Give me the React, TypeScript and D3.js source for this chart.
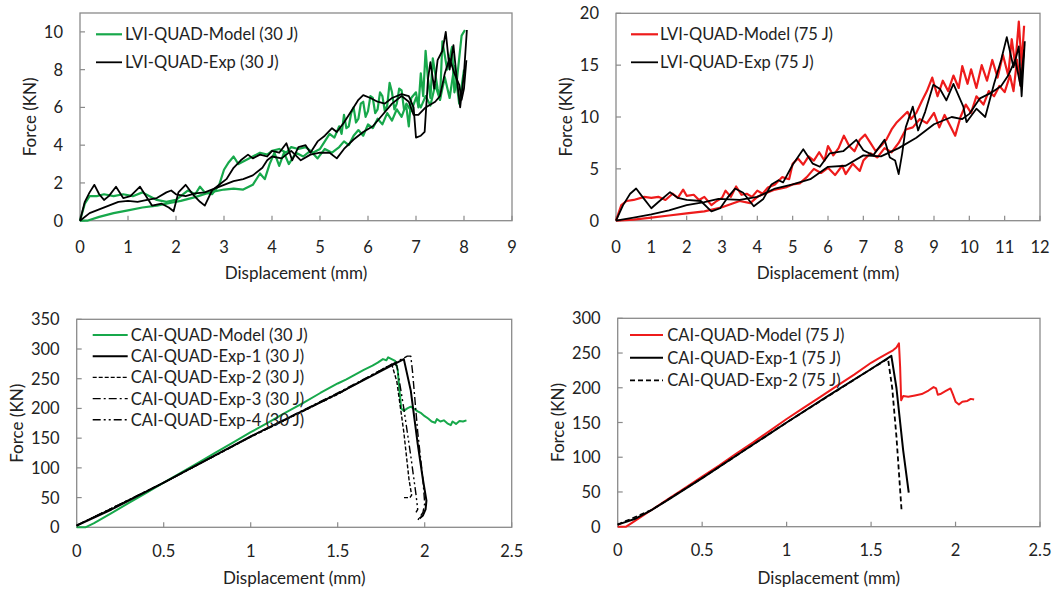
import React from 'react';
import * as d3 from 'd3';

type Pt = [number, number];

// ---------- Data: LVI 30 J ----------
const lvi30ModelUpper: Pt[] = [[0,0],[0.1,0.9],[0.2,1.3],[0.35,1.3],[0.5,1.4],[0.7,1.3],[0.9,1.4],[1.1,1.3],[1.3,1.5],[1.45,1.3],[1.6,1.1],[1.8,1.0],[2.0,1.1],[2.1,1.3],[2.25,1.6],[2.4,1.4],[2.5,1.8],[2.6,1.5],[2.75,1.4],[2.9,1.9],[3.0,2.7],[3.1,3.1],[3.2,3.4],[3.3,3.0],[3.45,3.2],[3.6,3.4],[3.75,3.6],[3.9,3.5],[4.0,3.7],[4.15,3.8],[4.3,3.6],[4.4,3.9],[4.55,3.8],[4.7,3.9],[4.85,3.6],[5.0,3.8],[5.1,4.2],[5.2,4.6],[5.3,4.4],[5.4,5.0],[5.45,4.6],[5.5,5.6],[5.55,4.9],[5.6,5.0],[5.65,5.7],[5.7,6.0],[5.75,5.2],[5.8,5.4],[5.85,6.2],[5.9,6.3],[5.95,5.5],[6.0,5.8],[6.05,6.6],[6.1,6.5],[6.15,5.7],[6.2,5.9],[6.25,6.8],[6.3,6.6],[6.35,5.8],[6.4,6.1],[6.45,7.3],[6.5,6.8],[6.55,5.9],[6.6,6.2],[6.65,7.0],[6.7,6.9],[6.75,5.9],[6.8,6.0],[6.85,5.0],[6.9,6.5],[7.0,6.8],[7.05,6.0],[7.1,7.8],[7.15,6.6],[7.2,9.0],[7.25,7.5],[7.3,6.5],[7.35,8.6],[7.45,7.0],[7.5,6.4],[7.55,9.5],[7.65,8.0],[7.75,9.2],[7.8,6.8],[7.85,7.4],[7.95,9.8],[8.02,10.1]];
const lvi30ModelLower: Pt[] = [[0,0],[0.15,0],[0.4,0.2],[0.7,0.4],[1.0,0.55],[1.3,0.7],[1.6,0.8],[1.9,0.95],[2.1,1.05],[2.4,1.25],[2.7,1.5],[3.0,1.65],[3.2,1.7],[3.4,1.65],[3.6,1.9],[3.75,2.5],[3.85,2.2],[3.95,3.0],[4.05,3.6],[4.15,2.9],[4.25,3.6],[4.35,3.0],[4.5,3.6],[4.65,3.4],[4.8,3.7],[4.95,3.3],[5.1,3.8],[5.25,3.6],[5.4,3.9],[5.5,4.2],[5.6,4.0],[5.7,4.5],[5.8,4.8],[5.9,4.5],[6.0,5.1],[6.1,4.9],[6.2,5.4],[6.3,5.1],[6.4,5.7],[6.5,5.3],[6.6,5.9],[6.7,5.5],[6.8,6.2],[6.9,5.8],[7.0,6.5],[7.1,6.0],[7.2,6.6],[7.3,6.1],[7.4,7.2],[7.5,6.4],[7.6,7.6],[7.7,6.5],[7.8,8.2],[7.9,6.2],[8.0,8.0]];
const lvi30ExpUpper: Pt[] = [[0,0],[0.1,1.0],[0.2,1.5],[0.3,1.9],[0.4,1.4],[0.5,1.1],[0.6,1.3],[0.75,1.8],[0.9,1.2],[1.05,1.3],[1.25,1.8],[1.35,1.4],[1.5,0.8],[1.7,0.9],[1.85,0.7],[1.95,0.5],[2.05,1.5],[2.2,1.9],[2.35,1.4],[2.5,1.0],[2.6,0.8],[2.75,1.6],[2.9,1.9],[3.05,2.2],[3.2,2.8],[3.35,3.2],[3.5,3.5],[3.6,3.3],[3.75,3.5],[3.9,3.4],[4.0,3.7],[4.15,3.6],[4.3,4.1],[4.42,3.2],[4.55,3.9],[4.7,4.0],[4.8,3.6],[4.95,4.2],[5.1,4.5],[5.25,4.9],[5.35,4.7],[5.5,5.2],[5.65,5.8],[5.8,6.4],[5.9,6.65],[6.05,6.5],[6.2,6.3],[6.35,6.2],[6.5,6.5],[6.7,6.7],[6.85,6.6],[6.95,6.0],[7.0,4.4],[7.1,4.5],[7.18,4.7],[7.25,7.5],[7.3,8.4],[7.38,7.0],[7.45,8.5],[7.55,9.0],[7.62,10.0],[7.7,8.0],[7.78,9.3],[7.85,7.5],[7.92,6.0],[8.0,7.8],[8.06,10.1]];
const lvi30ExpLower: Pt[] = [[0,0],[0.2,0.4],[0.4,0.6],[0.6,0.8],[0.8,1.0],[1.0,1.05],[1.2,1.0],[1.4,1.1],[1.6,1.2],[1.8,1.5],[1.9,1.6],[2.0,1.4],[2.2,1.3],[2.4,1.45],[2.6,1.5],[2.8,1.7],[3.0,1.9],[3.2,2.1],[3.4,2.2],[3.6,2.4],[3.8,2.8],[3.9,3.2],[4.0,3.4],[4.2,3.3],[4.4,3.7],[4.6,3.2],[4.8,3.5],[5.0,3.6],[5.2,3.6],[5.35,3.3],[5.5,3.8],[5.7,4.3],[5.9,4.7],[6.1,5.0],[6.3,5.6],[6.5,6.2],[6.7,6.6],[6.85,6.3],[6.95,5.6],[7.05,5.6],[7.2,6.0],[7.4,6.3],[7.5,6.6],[7.6,7.8],[7.7,8.6],[7.8,7.8],[7.9,7.2],[7.95,6.4],[8.0,7.0],[8.05,8.5]];

// ---------- Data: LVI 75 J ----------
const lvi75ModelUpper: Pt[] = [[0,0],[0.15,1.5],[0.3,1.9],[0.5,2.0],[0.8,2.3],[1.0,2.2],[1.2,2.3],[1.4,2.0],[1.6,2.6],[1.75,2.2],[1.9,3.0],[2.0,2.4],[2.2,2.5],[2.35,2.0],[2.5,2.3],[2.7,1.5],[2.85,1.9],[3.0,2.2],[3.1,2.9],[3.25,2.3],[3.4,3.3],[3.55,2.5],[3.7,2.6],[3.85,2.3],[4.0,2.9],[4.15,2.6],[4.3,3.2],[4.5,3.5],[4.7,4.2],[4.9,4.0],[5.0,5.5],[5.15,6.0],[5.3,5.4],[5.45,6.2],[5.6,5.8],[5.75,6.6],[5.9,5.8],[6.0,7.2],[6.15,6.3],[6.3,7.0],[6.45,8.2],[6.6,7.2],[6.75,6.7],[6.9,7.8],[7.05,8.3],[7.2,7.5],[7.35,6.7],[7.5,7.2],[7.65,7.8],[7.8,8.8],[7.95,9.5],[8.1,10.0],[8.25,10.5],[8.35,9.8],[8.5,10.4],[8.65,11.5],[8.8,12.5],[8.95,13.8],[9.1,12.0],[9.25,13.5],[9.4,12.5],[9.55,14.0],[9.7,12.8],[9.8,14.9],[9.95,13.2],[10.05,14.6],[10.2,12.8],[10.35,15.0],[10.5,13.5],[10.65,15.5],[10.8,13.8],[10.95,16.0],[11.1,14.0],[11.2,17.5],[11.3,15.0],[11.4,19.2],[11.48,15.0],[11.55,18.8]];
const lvi75ModelLower: Pt[] = [[0,0],[0.5,0.1],[1.0,0.3],[1.5,0.5],[2.0,0.7],[2.5,0.9],[3.0,1.3],[3.5,1.9],[3.8,1.7],[4.0,2.3],[4.2,2.6],[4.5,3.0],[4.8,3.2],[5.0,3.5],[5.2,3.6],[5.4,4.2],[5.6,5.0],[5.8,4.6],[6.0,5.1],[6.2,4.4],[6.4,5.3],[6.5,4.5],[6.7,5.5],[6.9,4.8],[7.0,5.8],[7.2,6.5],[7.4,6.1],[7.6,7.0],[7.8,6.6],[8.0,7.5],[8.2,8.8],[8.4,9.0],[8.6,9.8],[8.8,9.4],[9.0,10.4],[9.15,9.0],[9.3,10.2],[9.45,9.2],[9.6,8.2],[9.75,10.0],[9.9,11.2],[10.05,10.4],[10.2,12.0],[10.4,11.2],[10.55,12.5],[10.7,12.0],[10.85,13.0],[11.0,12.4],[11.15,14.0],[11.25,12.5],[11.35,15.5],[11.45,13.0],[11.55,17.0]];
const lvi75ExpUpper: Pt[] = [[0,0],[0.2,1.5],[0.4,2.6],[0.57,3.1],[0.75,2.3],[1.0,1.2],[1.2,1.8],[1.53,2.75],[1.75,2.2],[2.0,2.0],[2.4,1.9],[2.7,0.9],[2.95,1.2],[3.15,2.2],[3.37,3.1],[3.6,2.7],[3.9,1.4],[4.17,2.1],[4.4,3.5],[4.6,3.9],[4.73,3.7],[5.0,5.4],[5.3,6.9],[5.57,5.5],[5.77,5.2],[6.05,6.5],[6.43,6.7],[6.8,7.8],[7.0,6.8],[7.28,6.3],[7.6,7.8],[7.75,6.1],[7.9,5.8],[8.0,4.5],[8.1,6.5],[8.2,9.0],[8.4,11.0],[8.55,8.7],[8.75,10.5],[8.98,13.1],[9.17,12.7],[9.35,11.6],[9.55,13.2],[9.83,11.0],[9.92,9.5],[10.2,10.8],[10.45,10.0],[10.7,13.2],[10.9,15.5],[11.06,17.7],[11.25,14.8],[11.4,16.8],[11.48,12.0],[11.57,17.3]];
const lvi75ExpLower: Pt[] = [[0,0],[0.5,0.3],[1.0,0.6],[1.5,1.0],[2.0,1.5],[2.5,1.8],[2.9,2.1],[3.5,2.0],[4.0,2.3],[4.5,3.1],[5.0,3.5],[5.5,4.0],[6.0,5.2],[6.5,5.3],[7.0,6.3],[7.5,6.2],[8.0,7.0],[8.5,8.0],[9.0,9.3],[9.5,10.0],[9.8,9.8],[10.0,10.3],[10.3,11.8],[10.6,12.3],[10.9,13.0],[11.1,14.0],[11.3,15.5],[11.45,13.0],[11.55,16.5]];

// ---------- Data: CAI 30 J ----------
const cai30Model: Pt[] = [[0,0],[0.05,0],[0.1,7],[0.2,24],[0.3,41],[0.4,58],[0.5,75],[0.6,92],[0.7,109],[0.8,126],[0.9,143],[1.0,160],[1.1,176],[1.2,193],[1.3,209],[1.4,226],[1.5,242],[1.55,249],[1.6,257],[1.65,265],[1.7,272],[1.73,277],[1.76,283],[1.78,281],[1.79,286],[1.81,283],[1.83,280],[1.845,265],[1.855,230],[1.865,200],[1.88,196],[1.9,200],[1.92,203],[1.94,199],[1.96,195],[1.98,192],[2.0,187],[2.02,183],[2.04,178],[2.06,176],[2.07,182],[2.09,178],[2.11,180],[2.13,175],[2.15,172],[2.16,178],[2.18,174],[2.2,179],[2.22,178],[2.24,180]];
const cai30Exp1: Pt[] = [[0,3],[0.2,30],[0.5,75],[1.0,153],[1.5,225],[1.88,283],[1.92,230],[1.96,140],[1.99,80],[2.01,45],[2.005,30],[1.99,20],[1.97,15]];
const cai30Exp2: Pt[] = [[0,3],[0.5,75],[1.0,152],[1.5,224],[1.8,273],[1.81,275],[1.84,245],[1.88,160],[1.91,80],[1.925,54],[1.915,50],[1.88,50]];
const cai30Exp3: Pt[] = [[0,3],[0.5,75],[1.0,153],[1.5,226],[1.9,288],[1.92,288],[1.93,262],[1.96,160],[1.99,80],[2.0,40],[1.99,25],[1.96,12]];
const cai30Exp4: Pt[] = [[0,3],[0.5,75],[1.0,152],[1.5,224],[1.82,276],[1.84,272],[1.88,200],[1.92,120],[1.95,55],[1.96,30],[1.95,25]];

// ---------- Data: CAI 75 J ----------
const cai75Model: Pt[] = [[0,0],[0.05,0],[0.1,8],[0.2,24],[0.3,40],[0.4,56],[0.5,72],[0.6,88],[0.7,105],[0.8,121],[0.9,138],[1.0,155],[1.1,171],[1.2,187],[1.3,203],[1.4,219],[1.5,236],[1.55,243],[1.6,250],[1.63,254],[1.65,258],[1.665,264],[1.672,230],[1.678,182],[1.69,188],[1.72,187],[1.76,189],[1.8,191],[1.84,196],[1.87,201],[1.885,199],[1.895,190],[1.91,191],[1.94,195],[1.97,199],[1.985,190],[2.0,180],[2.02,176],[2.04,180],[2.07,181],[2.09,184],[2.11,183]];
const cai75Exp1: Pt[] = [[0,3],[0.1,11],[0.2,24],[0.3,39],[0.5,70],[0.75,110],[1.0,150],[1.25,189],[1.5,227],[1.62,246],[1.65,200],[1.69,110],[1.723,49]];
const cai75Exp2: Pt[] = [[0,3],[0.2,24],[0.5,70],[1.0,150],[1.5,227],[1.6,242],[1.625,200],[1.65,130],[1.68,25]];

// ---------- Ticks & labels ----------
const xTicksLvi30 = [0,1,2,3,4,5,6,7,8,9];
const yTicksLvi30 = [0,2,4,6,8,10];
const xTicksLvi75 = [0,1,2,3,4,5,6,7,8,9,10,11,12];
const yTicksLvi75 = [0,5,10,15,20];
const xTicksCai = [0,0.5,1,1.5,2,2.5];
const yTicksCai30 = [0,50,100,150,200,250,300,350];
const yTicksCai75 = [0,50,100,150,200,250,300];

const legendLvi30 = ['LVI-QUAD-Model (30 J)', 'LVI-QUAD-Exp (30 J)'];
const legendLvi75 = ['LVI-QUAD-Model (75 J)', 'LVI-QUAD-Exp (75 J)'];
const legendCai30 = ['CAI-QUAD-Model (30 J)', 'CAI-QUAD-Exp-1 (30 J)', 'CAI-QUAD-Exp-2 (30 J)', 'CAI-QUAD-Exp-3 (30 J)', 'CAI-QUAD-Exp-4 (30 J)'];
const legendCai75 = ['CAI-QUAD-Model (75 J)', 'CAI-QUAD-Exp-1 (75 J)', 'CAI-QUAD-Exp-2 (75 J)'];

const GREEN = '#17a84b';
const RED = '#ee1b1b';
const BLACK = '#000000';
const FONT = 'Lato, "Open Sans", sans-serif';
const FS = 16.5;
const FS_TITLE = 17;

interface Series { data: Pt[]; color: string; width: number; dash?: string; }
interface LegendItem { label: string; color: string; width: number; dash?: string; }
interface PanelProps {
  left: number; right: number; top: number; bottom: number;
  xDomain: [number, number]; yDomain: [number, number];
  xTicks: number[]; yTicks: number[];
  series: Series[]; legend: LegendItem[];
  legX: number; legLen: number; legTextX: number; legY: number; legDy: number;
  yTitleX: number; xTickY: number; xTitleY: number;
}

function Panel(p: PanelProps) {
  const xs = d3.scaleLinear().domain(p.xDomain).range([p.left, p.right]);
  const ys = d3.scaleLinear().domain(p.yDomain).range([p.bottom, p.top]);
  const line = d3.line<Pt>().x(d => xs(d[0])).y(d => ys(d[1]));
  const cx = (p.left + p.right) / 2;
  const cy = (p.top + p.bottom) / 2;
  return (
    <g>
      <rect x={p.left} y={p.top} width={p.right - p.left} height={p.bottom - p.top} fill="none" stroke="#8a8a8a" strokeWidth={1.3} />
      {p.xTicks.map(t => (
        <g key={'x' + t}>
          <line x1={xs(t)} x2={xs(t)} y1={p.bottom} y2={p.bottom - 5} stroke="#8a8a8a" strokeWidth={1.2} />
          <text x={xs(t)} y={p.xTickY} textAnchor="middle" fontSize={FS} fontFamily={FONT} fill="#222">{String(t)}</text>
        </g>
      ))}
      {p.yTicks.map(t => (
        <g key={'y' + t}>
          <line x1={p.left} x2={p.left + 5} y1={ys(t)} y2={ys(t)} stroke="#8a8a8a" strokeWidth={1.2} />
          <text x={p.left - 17} y={ys(t) + 6} textAnchor="end" fontSize={FS} fontFamily={FONT} fill="#222">{String(t)}</text>
        </g>
      ))}
      {p.series.map((s, i) => (
        <path key={'s' + i} d={line(s.data) || ''} fill="none" stroke={s.color} strokeWidth={s.width} strokeDasharray={s.dash} strokeLinejoin="round" />
      ))}
      {p.legend.map((l, i) => {
        const y = p.legY + i * p.legDy;
        return (
          <g key={'l' + i}>
            <line x1={p.legX} x2={p.legX + p.legLen} y1={y} y2={y} stroke={l.color} strokeWidth={l.width} strokeDasharray={l.dash} />
            <text x={p.legTextX} y={y + 6} fontSize={FS} fontFamily={FONT} fill="#222">{l.label}</text>
          </g>
        );
      })}
      <text x={cx} y={p.xTitleY} textAnchor="middle" fontSize={FS_TITLE} fontFamily={FONT} fill="#222">Displacement (mm)</text>
      <text transform={`translate(${p.yTitleX},${cy}) rotate(-90)`} textAnchor="middle" dy={6} fontSize={FS_TITLE} fontFamily={FONT} fill="#222">Force (KN)</text>
    </g>
  );
}

export default function App() {
  return (
    <svg width={1064} height={592} style={{ position: 'absolute', left: 0, top: 0, background: '#fff' }}>
      <Panel left={80} right={512} top={13} bottom={220.7} xDomain={[0, 9]} yDomain={[0, 11]}
        xTicks={xTicksLvi30} yTicks={yTicksLvi30}
        series={[
          { data: lvi30ModelLower, color: GREEN, width: 2.2 },
          { data: lvi30ModelUpper, color: GREEN, width: 2.2 },
          { data: lvi30ExpLower, color: BLACK, width: 1.8 },
          { data: lvi30ExpUpper, color: BLACK, width: 1.8 },
        ]}
        legend={[
          { label: legendLvi30[0], color: GREEN, width: 2.2 },
          { label: legendLvi30[1], color: BLACK, width: 1.8 },
        ]}
        legX={96} legLen={26} legTextX={125} legY={34.3} legDy={28}
        yTitleX={30} xTickY={253} xTitleY={279} />
      <Panel left={616} right={1040} top={13.3} bottom={220.7} xDomain={[0, 12]} yDomain={[0, 20]}
        xTicks={xTicksLvi75} yTicks={yTicksLvi75}
        series={[
          { data: lvi75ModelLower, color: RED, width: 2.2 },
          { data: lvi75ModelUpper, color: RED, width: 2.2 },
          { data: lvi75ExpLower, color: BLACK, width: 1.8 },
          { data: lvi75ExpUpper, color: BLACK, width: 1.8 },
        ]}
        legend={[
          { label: legendLvi75[0], color: RED, width: 2.2 },
          { label: legendLvi75[1], color: BLACK, width: 1.8 },
        ]}
        legX={631} legLen={27} legTextX={660} legY={34.3} legDy={28}
        yTitleX={566} xTickY={253} xTitleY={279} />
      <Panel left={76.7} right={511.7} top={319.3} bottom={527.3} xDomain={[0, 2.5]} yDomain={[0, 350]}
        xTicks={xTicksCai} yTicks={yTicksCai30}
        series={[
          { data: cai30Model, color: GREEN, width: 2 },
          { data: cai30Exp4, color: BLACK, width: 1.4, dash: '8,3,2,3,2,3' },
          { data: cai30Exp3, color: BLACK, width: 1.4, dash: '8,3,2,3' },
          { data: cai30Exp2, color: BLACK, width: 1.4, dash: '4,2' },
          { data: cai30Exp1, color: BLACK, width: 2 },
        ]}
        legend={[
          { label: legendCai30[0], color: GREEN, width: 2 },
          { label: legendCai30[1], color: BLACK, width: 2 },
          { label: legendCai30[2], color: BLACK, width: 1.4, dash: '4,2' },
          { label: legendCai30[3], color: BLACK, width: 1.4, dash: '8,3,2,3' },
          { label: legendCai30[4], color: BLACK, width: 1.4, dash: '8,3,2,3,2,3' },
        ]}
        legX={92.7} legLen={35} legTextX={130.7} legY={335} legDy={21.2}
        yTitleX={16.7} xTickY={557} xTitleY={584} />
      <Panel left={617.7} right={1040} top={318.3} bottom={526.7} xDomain={[0, 2.5]} yDomain={[0, 300]}
        xTicks={xTicksCai} yTicks={yTicksCai75}
        series={[
          { data: cai75Model, color: RED, width: 2 },
          { data: cai75Exp2, color: BLACK, width: 1.8, dash: '5,3' },
          { data: cai75Exp1, color: BLACK, width: 2 },
        ]}
        legend={[
          { label: legendCai75[0], color: RED, width: 2 },
          { label: legendCai75[1], color: BLACK, width: 2 },
          { label: legendCai75[2], color: BLACK, width: 1.8, dash: '5,3' },
        ]}
        legX={630} legLen={33} legTextX={667.3} legY={335} legDy={22.7}
        yTitleX={558.3} xTickY={556} xTitleY={584} />
    </svg>
  );
}
